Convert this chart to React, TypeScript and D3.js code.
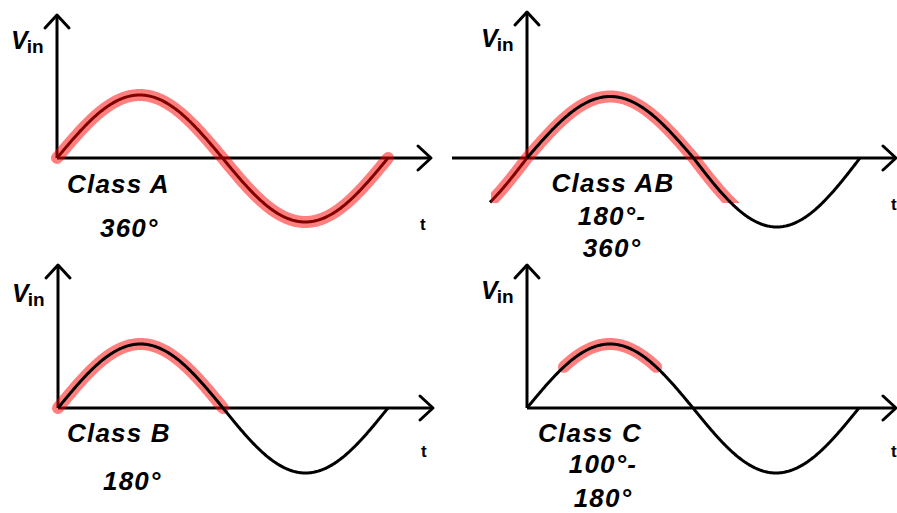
import React from 'react';
import * as d3 from 'd3';

// ---- data ----
const classNames = ['Class A', 'Class AB', 'Class B', 'Class C'];
const angleLabels = [['360°'], ['180°-', '360°'], ['180°'], ['100°-', '180°']];
// conduction (highlighted) ranges in degrees of the input sine
const conductionStart = [0, -50, 0, 40];
const conductionEnd = [360, 235, 180, 140];
// drawn input wave ranges in degrees
const waveStart = [0, -40, 0, 0];
const waveEnd = [360, 360, 360, 360];
const axisLabelY = 'V';
const axisLabelYSub = 'in';
const axisLabelX = 't';

// ---- layout ----
const layout = [
  { x0: 57, x360: 388, axisY: 158, up: 63, down: 64, yTop: 15, xStart: 57, xEnd: 431,
    vx: 11, vy: 49, tx: 420, ty: 230, anchor: 'start', textX: [67, 100], textY: [193, 237], redOnTop: true, clip: null },
  { x0: 527, x360: 860, axisY: 158, up: 61.5, down: 69, yTop: 12, xStart: 452, xEnd: 896,
    vx: 481, vy: 47, tx: 891, ty: 210, anchor: 'middle', textX: [613, 612, 612], textY: [192, 225, 257], redOnTop: false,
    clip: { x: 491, y: 0, w: 406, h: 203 } },
  { x0: 58, x360: 388, axisY: 408, up: 64, down: 65, yTop: 265, xStart: 58, xEnd: 433,
    vx: 12, vy: 302, tx: 421, ty: 457, anchor: 'start', textX: [67, 103], textY: [442, 490], redOnTop: false, clip: null },
  { x0: 527, x360: 859, axisY: 408, up: 64, down: 65, yTop: 265, xStart: 527, xEnd: 896,
    vx: 481, vy: 299, tx: 891, ty: 457, anchor: 'middle', textX: [590, 603, 603], textY: [442, 473, 507], redOnTop: false, clip: null },
];

const FONT = '"Liberation Sans", Arial, Helvetica, sans-serif';
const RED = 'rgba(255,0,0,0.5)';

function Panel({ i }: { i: number }) {
  const L = layout[i];
  const x = d3.scaleLinear().domain([0, 360]).range([L.x0, L.x360]);
  const y = d3.scaleLinear().domain([-1, 0, 1]).range([L.axisY + L.down, L.axisY, L.axisY - L.up]);
  const line = d3
    .line<number>()
    .x((d) => x(d))
    .y((d) => y(Math.sin((d * Math.PI) / 180)))
    .curve(d3.curveLinear);
  const seg = (a: number, b: number) => {
    const pts = d3.range(a, b, 1);
    pts.push(b);
    return line(pts) || '';
  };
  const clipId = `clip${i}`;
  const blackNeg = waveStart[i] < 0 ? seg(waveStart[i], 0) : '';
  const blackMain = seg(Math.max(0, waveStart[i]), waveEnd[i]);
  const red = (
    <path
      d={seg(conductionStart[i], conductionEnd[i])}
      fill="none"
      stroke={RED}
      strokeWidth={12}
      strokeLinecap={L.clip ? 'butt' : 'round'}
      clipPath={L.clip ? `url(#${clipId})` : undefined}
    />
  );
  const black = (d: string, key: string) => (
    <path key={key} d={d} fill="none" stroke="#000" strokeWidth={3} strokeLinecap="butt" />
  );
  const yAxisX = x(0);
  const texts = [classNames[i], ...angleLabels[i]];
  return (
    <g>
      {L.clip && (
        <defs>
          <clipPath id={clipId}>
            <rect x={L.clip.x} y={L.clip.y} width={L.clip.w} height={L.clip.h} />
          </clipPath>
        </defs>
      )}
      {/* axes */}
      <line x1={L.xStart} y1={L.axisY} x2={L.xEnd} y2={L.axisY} stroke="#000" strokeWidth={3} />
      <polyline
        points={`${L.xEnd - 13},${L.axisY - 12} ${L.xEnd},${L.axisY} ${L.xEnd - 13},${L.axisY + 12}`}
        fill="none"
        stroke="#000"
        strokeWidth={3}
        strokeLinecap="round"
        strokeLinejoin="round"
      />
      <line x1={yAxisX} y1={L.axisY} x2={yAxisX} y2={L.yTop} stroke="#000" strokeWidth={3} />
      <polyline
        points={`${yAxisX - 12},${L.yTop + 13} ${yAxisX},${L.yTop} ${yAxisX + 12},${L.yTop + 13}`}
        fill="none"
        stroke="#000"
        strokeWidth={3}
        strokeLinecap="round"
        strokeLinejoin="round"
      />
      {/* waves */}
      {L.redOnTop ? (
        <>
          {black(blackMain, 'm')}
          {red}
        </>
      ) : (
        <>
          {blackNeg && black(blackNeg, 'n')}
          {red}
          {black(blackMain, 'm')}
        </>
      )}
      {/* labels */}
      <text x={L.vx} y={L.vy} fontFamily={FONT} fontWeight="bold">
        <tspan fontStyle="italic" fontSize={25}>{axisLabelY}</tspan>
        <tspan fontSize={19} dy={4} dx={-1}>{axisLabelYSub}</tspan>
      </text>
      <text x={L.tx} y={L.ty} fontFamily={FONT} fontSize={17} fontWeight="bold">
        {axisLabelX}
      </text>
      {texts.map((t, k) => (
        <text
          key={k}
          x={L.textX[k]}
          y={L.textY[k]}
          fontFamily={FONT}
          fontSize={26}
          fontWeight="bold"
          fontStyle="italic"
          letterSpacing={1.2}
          textAnchor={L.anchor}
        >
          {t}
        </text>
      ))}
    </g>
  );
}

export default function App() {
  return (
    <svg
      width={897}
      height={513}
      viewBox="0 0 897 513"
      style={{ position: 'absolute', left: 0, top: 0, background: '#fff' }}
    >
      <rect width={897} height={513} fill="#fff" />
      {[0, 1, 2, 3].map((i) => (
        <Panel key={i} i={i} />
      ))}
    </svg>
  );
}
